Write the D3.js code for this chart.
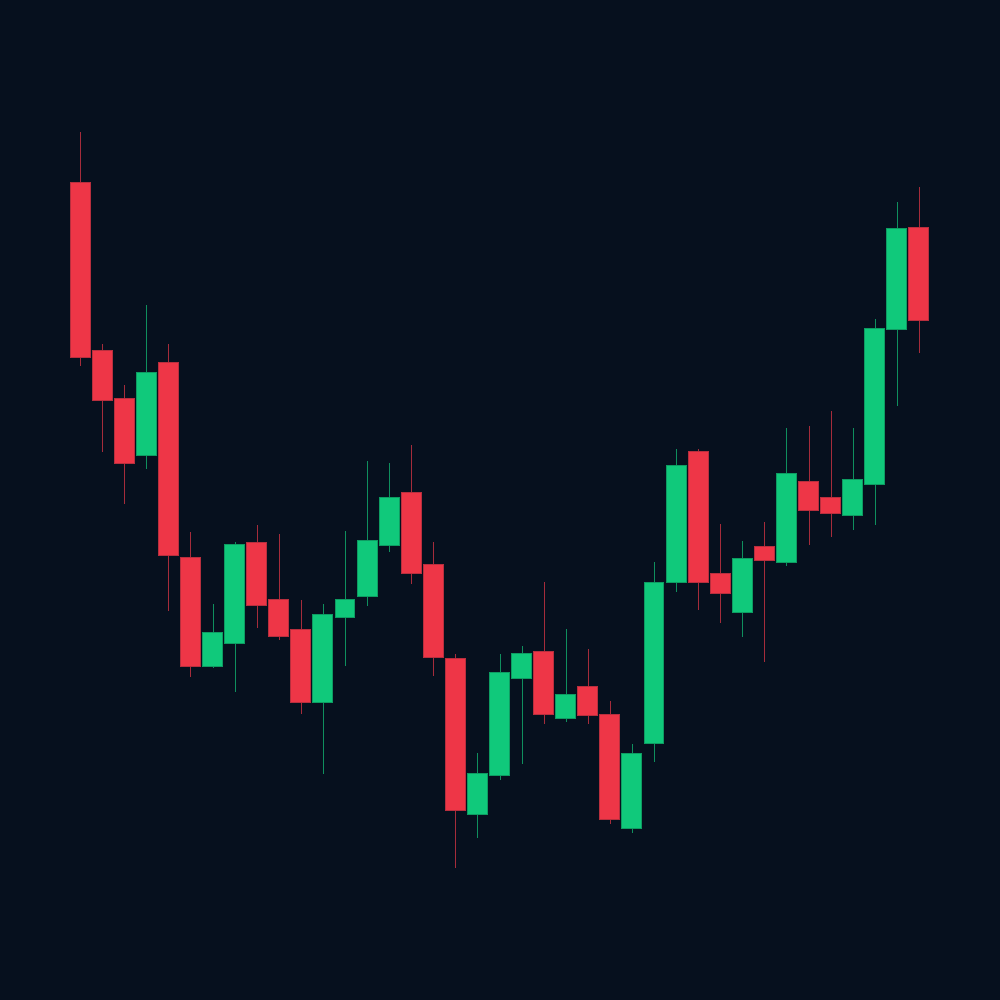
<!DOCTYPE html>
<meta charset="utf-8">
<style>

body
{
  margin: 0;
  background: #06101e;
}

.wick
{
  stroke-width: 1px;
  shape-rendering: crispEdges;
}

.body
{
  stroke-width: 1px;
  shape-rendering: crispEdges;
}

</style>
<svg width="1000" height="1000"></svg>
<script src="https://d3js.org/d3.v7.min.js"></script>
<script>

// one value per candle, left to right
var open  = [81.8, 65.0, 60.2, 54.5, 63.8, 44.3, 33.4, 35.7, 45.8, 40.1,
             37.1, 29.8, 38.3, 40.4, 45.5, 50.8, 43.6, 34.2, 18.6, 22.5,
             32.2, 34.9, 28.2, 31.4, 28.6, 17.2, 25.7, 41.8, 54.9, 42.7,
             38.8, 45.4, 43.8, 51.9, 50.3, 48.5, 51.6, 67.1, 77.3];
var close = [64.3, 60.0, 53.7, 62.8, 44.5, 33.4, 36.8, 45.6, 39.5, 36.4,
             29.8, 38.6, 40.1, 46.0, 50.3, 42.7, 34.3, 19.0, 22.7, 32.8,
             34.7, 28.6, 30.6, 28.5, 18.1, 24.7, 41.8, 53.5, 41.8, 40.7,
             44.2, 44.0, 52.7, 49.0, 48.7, 52.1, 67.2, 77.2, 68.0];
var high  = [86.8, 65.6, 61.5, 69.5, 65.6, 46.8, 39.6, 45.8, 47.5, 46.6,
             40.0, 39.6, 46.9, 53.9, 53.7, 55.5, 45.8, 34.6, 24.7, 34.6,
             35.4, 41.8, 37.1, 35.1, 29.9, 25.6, 43.8, 55.1, 55.1, 47.6,
             45.9, 47.8, 57.2, 57.4, 58.9, 57.2, 68.1, 79.8, 81.3];
var low   = [63.4, 54.8, 49.6, 53.1, 38.9, 32.3, 33.2, 30.8, 37.2, 36.0,
             28.6, 22.6, 33.4, 39.4, 44.8, 41.6, 32.4, 13.2, 16.2, 22.0,
             23.6, 27.6, 27.8, 27.6, 17.6, 16.7, 23.8, 40.8, 39.0, 37.7,
             36.3, 33.8, 43.4, 45.5, 46.3, 47.0, 47.5, 59.4, 64.7];

var svg = d3.select("svg"),
    width = +svg.attr("width"),
    height = +svg.attr("height");

svg.append("rect")
    .attr("width", width)
    .attr("height", height)
    .attr("fill", "#06101e");

var candles = open.map(function(o, i) {
  return { i: i, open: o, close: close[i], high: high[i], low: low[i] };
});

var x = d3.scaleBand()
    .domain(d3.range(candles.length))
    .range([68, 931])
    .padding(0.1);

var y = d3.scaleLinear()
    .domain([0, 100])
    .range([height, 0]);

function up(d) { return d.close >= d.open; }

var g = svg.append("g");

g.selectAll("line.wick")
  .data(candles)
  .enter().append("line")
    .attr("class", "wick")
    .attr("x1", function(d) { return Math.round(x(d.i) + x.bandwidth() / 2) + 0.5; })
    .attr("x2", function(d) { return Math.round(x(d.i) + x.bandwidth() / 2) + 0.5; })
    .attr("y1", function(d) { return y(d.high); })
    .attr("y2", function(d) { return y(d.low); })
    .attr("stroke", function(d) { return up(d) ? "#0f8f5e" : "#a52c3b"; });

g.selectAll("rect.body")
  .data(candles)
  .enter().append("rect")
    .attr("class", "body")
    .attr("x", function(d) { return x(d.i); })
    .attr("width", x.bandwidth())
    .attr("y", function(d) { return y(Math.max(d.open, d.close)); })
    .attr("height", function(d) { return Math.abs(y(d.open) - y(d.close)); })
    .attr("fill", function(d) { return up(d) ? "#10c97b" : "#ee3647"; })
    .attr("stroke", function(d) { return up(d) ? "#0e9c62" : "#b82f3e"; });

</script>
